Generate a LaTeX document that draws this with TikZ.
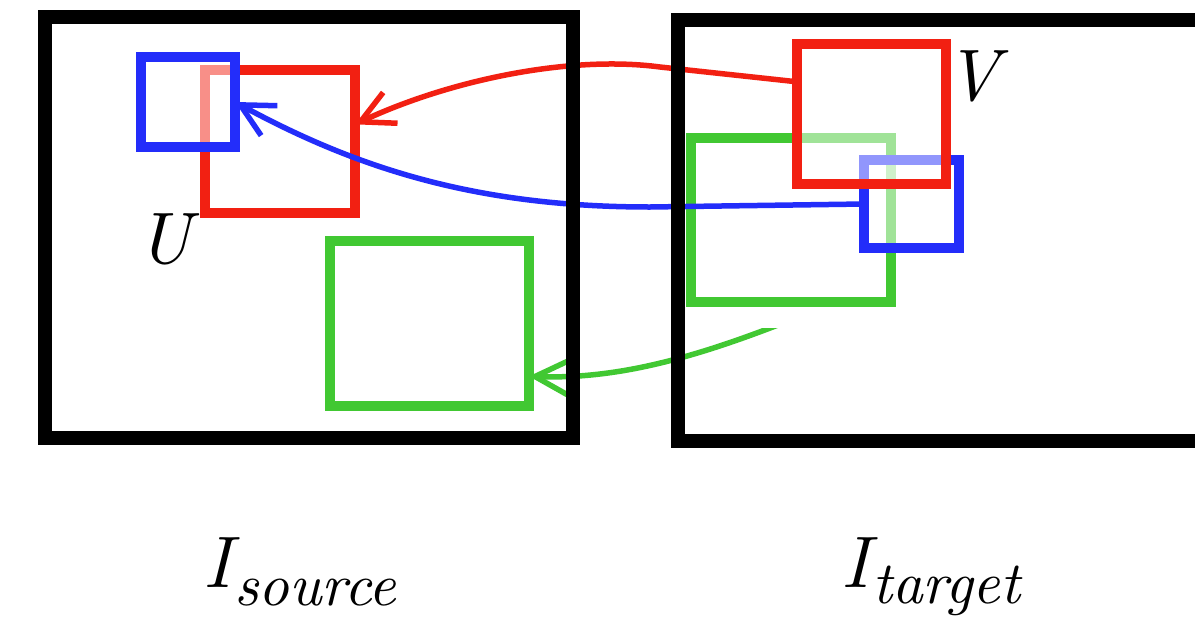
\documentclass[tikz,border=0pt]{standalone}
\usepackage{fontspec}
\newfontfamily\lmten{lmroman10-italic.otf}
\usetikzlibrary{arrows.meta,calc}
\definecolor{cred}{RGB}{242,32,18}
\definecolor{cblue}{RGB}{35,45,250}
\definecolor{cgreen}{RGB}{65,200,50}
\begin{document}
\begin{tikzpicture}[x=1pt,y=-1pt,
  frame/.style={draw=black,line width=14pt,inner sep=0pt,outer sep=0pt},
  patch/.style={line width=10.5pt,inner sep=0pt,outer sep=0pt,fill=white,fill opacity=0.5,draw opacity=1},
  link/.style={line width=5.5pt,-{Straight Barb[length=33pt,width=34pt]}},
  lbl/.style={inner sep=0pt,font=\lmten\fontsize{73}{73}\selectfont}]
\useasboundingbox (0,0) rectangle (1195,643);
% left image boxes
\node[patch,draw=cred,minimum width=150pt,minimum height=143pt] (rL) at (280,141.5) {};
\node[patch,draw=cblue,minimum width=94pt,minimum height=90pt] (bL) at (188,102) {};
\node[patch,draw=cgreen,minimum width=199pt,minimum height=165pt] (gL) at (429.5,323.5) {};
% right image boxes
\node[patch,draw=cgreen,minimum width=200pt,minimum height=164pt] (gR) at (791,220) {};
\node[patch,draw=cblue,minimum width=95pt,minimum height=88pt] (bR) at (911.5,204) {};
\node[patch,draw=cred,minimum width=149pt,minimum height=140pt] (rR) at (871.5,114) {};
% connectors
\draw[link,draw=cred] ($(rR.north west)!0.27!(rR.south west)$) -- (660,67)
  .. controls (570,55) and (450,80) .. ($(rL.north east)!0.38!(rL.south east)$);
\draw[link,draw=cblue] (bR.west) -- (650,207)
  .. controls (480,207) and (360,170) .. (bL.east);
\begin{scope}
  \clip (500,328) rectangle (800,420);
  \draw[link,draw=cgreen] ($(gR.south west)!0.72!(gR.south east)$)
    .. controls (720,350) and (630,380) .. ($(gL.north east)!0.82!(gL.south east)$);
\end{scope}
% frames
\node[frame,minimum width=528pt,minimum height=421pt] (Ls) at (309,227.5) {};
\node[frame,minimum width=537pt,minimum height=421pt] (Rt) at (946.5,230.5) {};
% labels
\node[lbl,anchor=base] (U) at (165,263) {U};
\node[lbl,anchor=base] (V) at (973,100) {V};
\node[lbl,anchor=base west] (Is) at (203,587) {I\kern3pt\raisebox{-18pt}{\fontsize{60}{60}\selectfont source}};
\node[lbl,anchor=base west] (It) at (841,587) {I\kern3pt\raisebox{-16pt}{\fontsize{60}{60}\selectfont target}};
\end{tikzpicture}
\end{document}
